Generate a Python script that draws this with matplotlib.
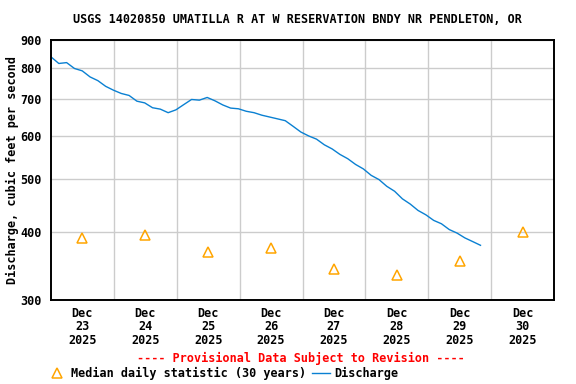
import numpy as np
import matplotlib
matplotlib.use('Agg')
import matplotlib.pyplot as plt
from matplotlib.lines import Line2D
from matplotlib.ticker import FixedLocator, NullLocator

# ── data ────────────────────────────────────────────────────────────────────
# discharge, ~3-hourly readings, days since Dec 23 00:00
q_days = np.arange(56) * 0.1242
q_cfs = [838, 815, 818, 798, 790, 770, 758, 740, 728, 718,
         712, 695, 690, 676, 672, 662, 670, 685, 700, 698,
         706, 696, 684, 675, 673, 666, 662, 655, 650, 645,
         640, 625, 610, 600, 592, 578, 568, 555, 545, 532,
         522, 508, 499, 485, 475, 460, 450, 438, 430, 420,
         414, 404, 398, 390, 384, 378]

# median daily statistic (30 years), at noon of each day
med_days = [0.5, 1.5, 2.5, 3.5, 4.5, 5.5, 6.5, 7.5]
med_cfs = [390, 395, 367, 374, 342, 333, 353, 400]

day_labels = ['Dec\n23\n2025', 'Dec\n24\n2025', 'Dec\n25\n2025', 'Dec\n26\n2025',
              'Dec\n27\n2025', 'Dec\n28\n2025', 'Dec\n29\n2025', 'Dec\n30\n2025']
y_ticks = [300, 400, 500, 600, 700, 800, 900]

# ── style ───────────────────────────────────────────────────────────────────
plt.rcParams.update({
    'font.family': 'DejaVu Sans Mono',
    'font.weight': 'bold',
    'font.size': 8.5,
})
BLUE = '#0a80d2'
ORANGE = '#ffa500'
GRID = '#cccccc'

fig = plt.figure(figsize=(5.76, 3.84), dpi=100)
ax = fig.add_axes([51/576, 84/384, 503/576, 260/384])

ax.plot(q_days, q_cfs, color=BLUE, lw=1)
ax.plot(med_days, med_cfs, ls='none', marker='^', ms=7, mfc='none',
        mec=ORANGE, mew=1.1)

ax.set_yscale('log')
ax.set_ylim(300, 900)
ax.set_xlim(0, 8)
ax.yaxis.set_major_locator(FixedLocator(y_ticks))
ax.yaxis.set_minor_locator(NullLocator())
ax.set_yticklabels([str(v) for v in y_ticks], fontweight='bold')
ax.set_xticks(med_days)
ax.set_xticklabels(day_labels, fontweight='bold', linespacing=1.05)
ax.set_xticks(np.arange(1, 8), minor=True)
ax.tick_params(axis='both', which='both', length=0)
ax.tick_params(axis='x', pad=5)
ax.tick_params(axis='y', pad=7)

ax.grid(True, which='major', axis='y', color=GRID, lw=1)
ax.grid(True, which='minor', axis='x', color=GRID, lw=1)
ax.set_axisbelow(True)
for s in ax.spines.values():
    s.set_linewidth(1.4)

fig.text(0.517, 0.95, 'USGS 14020850 UMATILLA R AT W RESERVATION BNDY NR PENDLETON, OR',
         ha='center', va='center', fontweight='bold')
fig.text(0.021, 0.557, 'Discharge, cubic feet per second', rotation=90,
         ha='center', va='center', fontweight='bold')
fig.text(0.523, 0.066, '---- Provisional Data Subject to Revision ----',
         ha='center', va='center', color='red', fontweight='bold')

handles = [Line2D([], [], ls='none', marker='^', ms=7, mfc='none', mec=ORANGE, mew=1.1),
           Line2D([], [], color=BLUE, lw=1)]
fig.legend(handles, ['Median daily statistic (30 years)', 'Discharge'],
           ncol=2, loc='center', bbox_to_anchor=(0.388, 0.028), frameon=False,
           handlelength=1.5, handletextpad=0.4, columnspacing=0.5,
           prop={'family': 'DejaVu Sans Mono', 'weight': 'bold', 'size': 8.5})

plt.savefig('out.png', dpi=100)
